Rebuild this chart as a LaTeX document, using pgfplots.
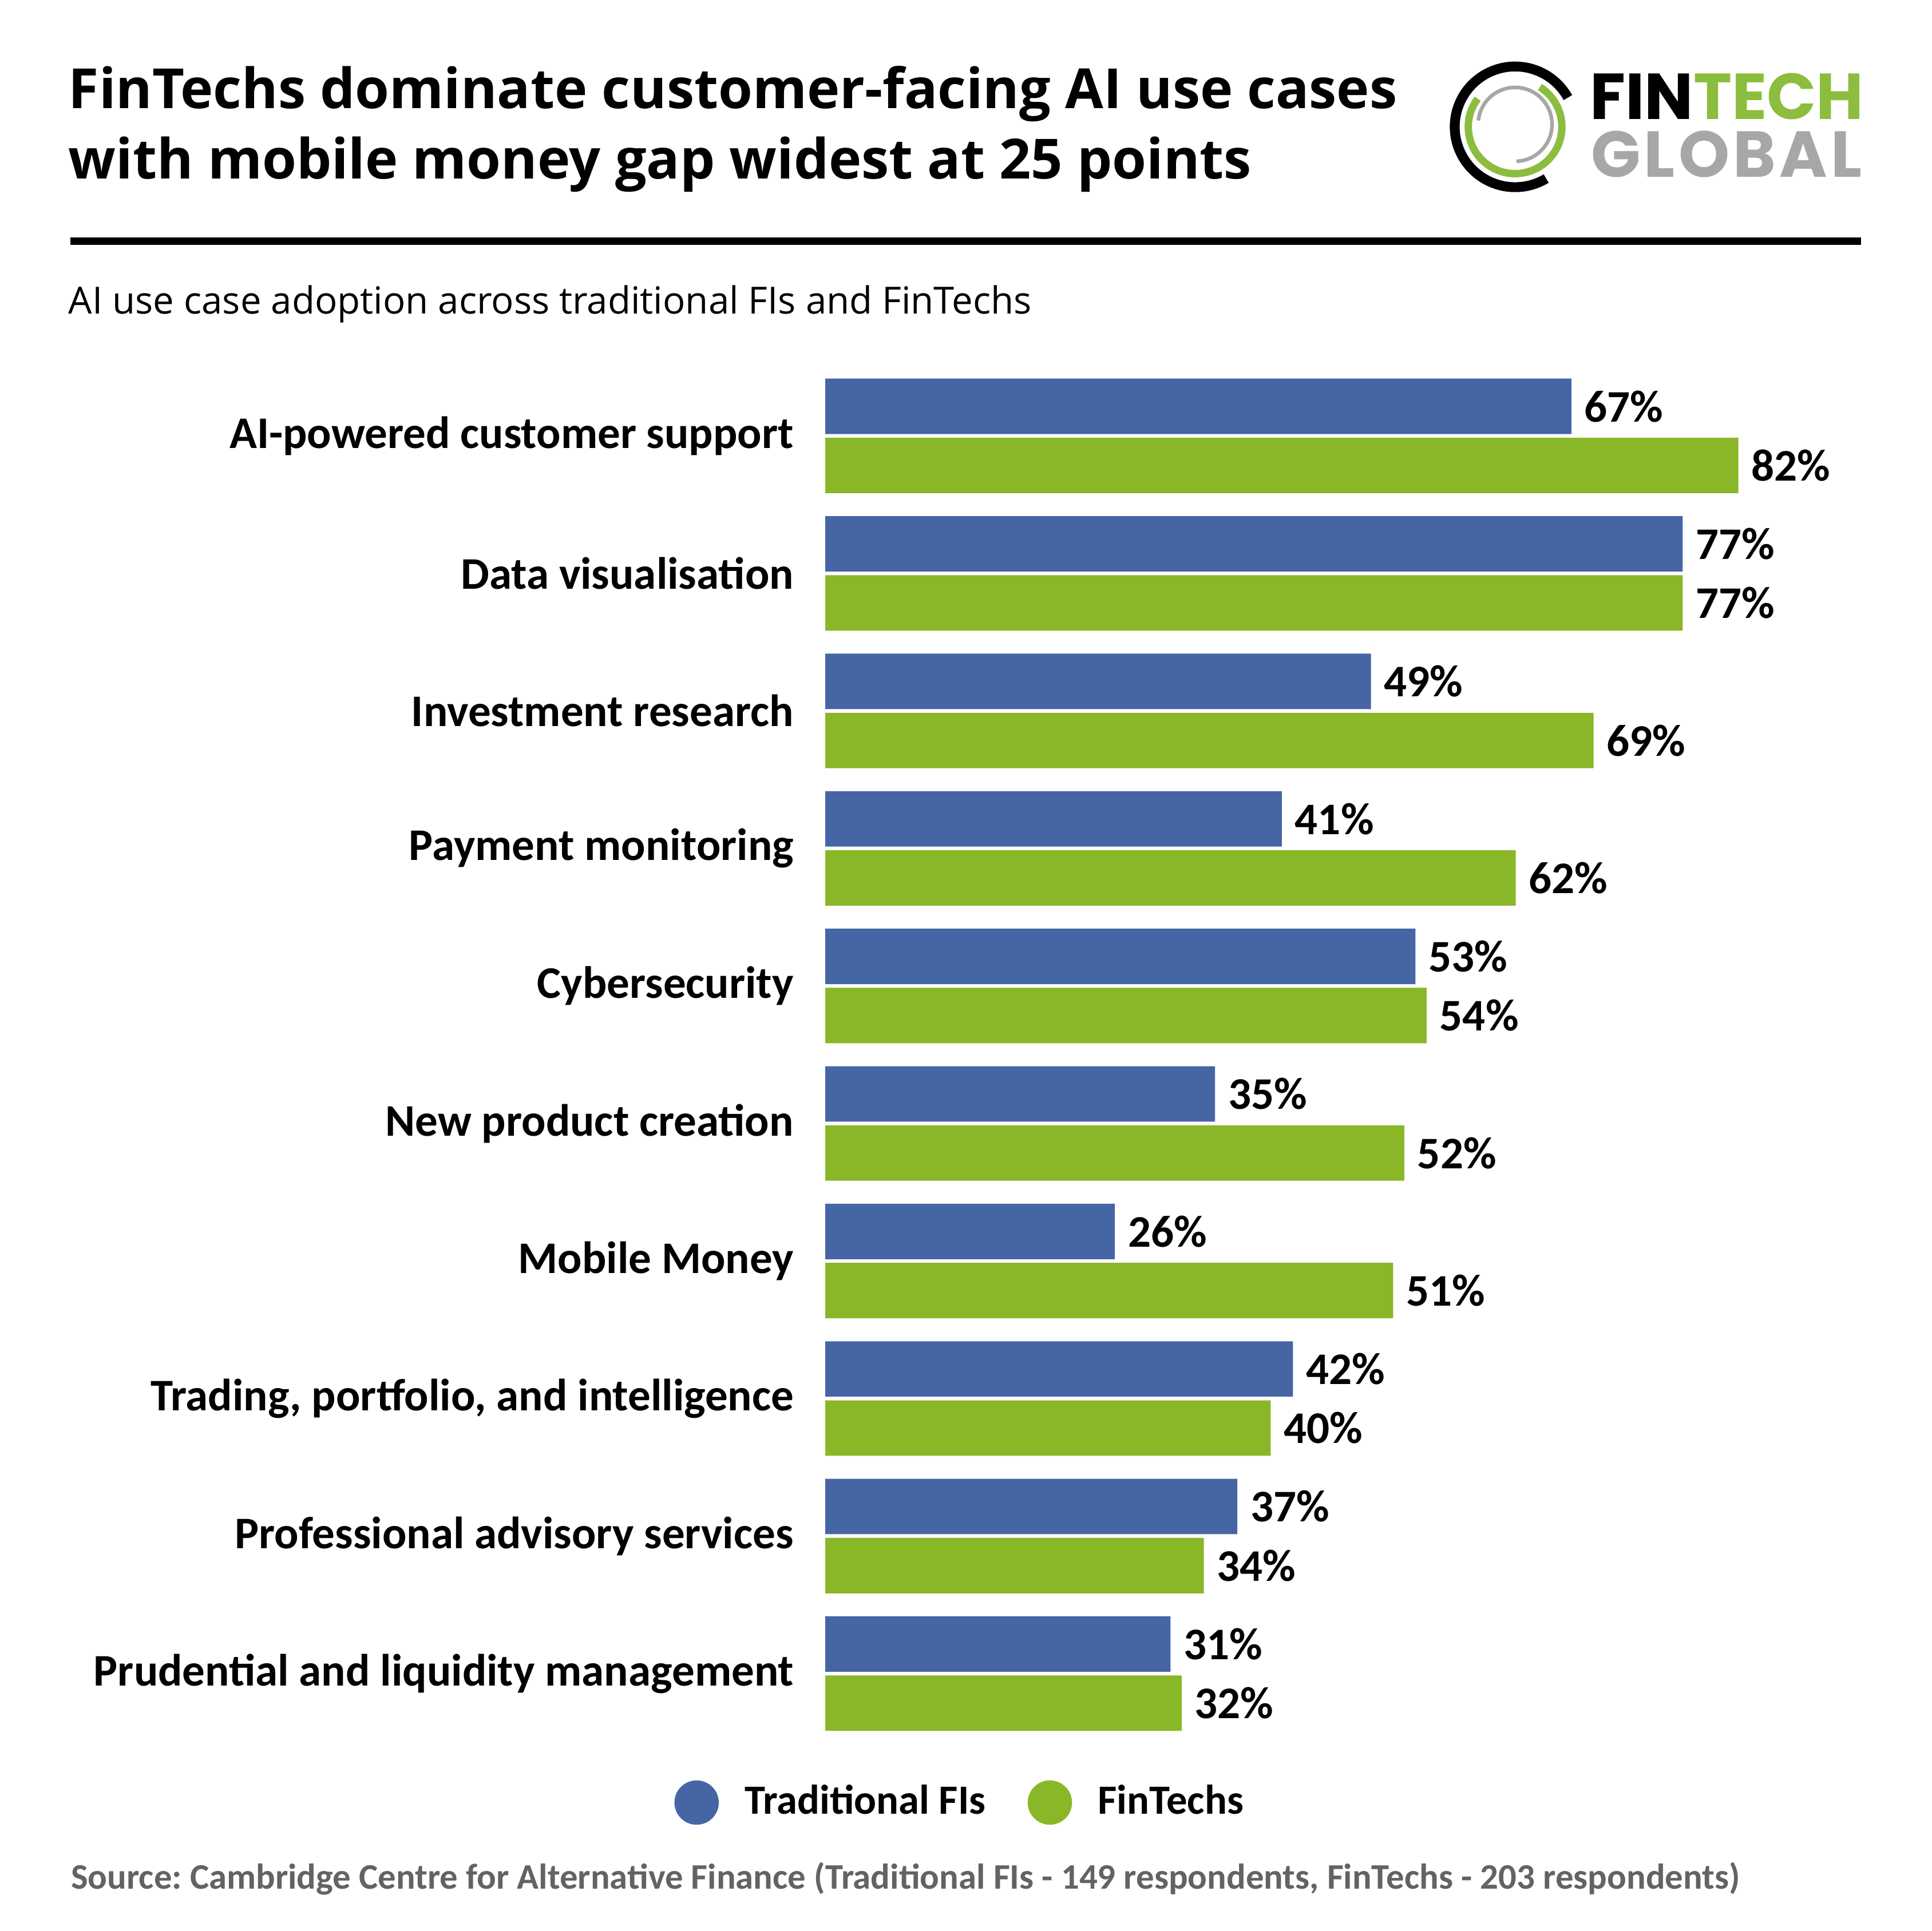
\documentclass[border=0pt]{standalone}
\usepackage{fontspec}
\setmainfont{Carlito}
\newfontfamily\opensans{Open Sans}
\newfontfamily\poppins{Poppins}
\newfontfamily\poppinsls[LetterSpace=5.4]{Poppins}
\usepackage{pgfplots}
\pgfplotsset{compat=1.18}
\frenchspacing
\definecolor{fiblue}{HTML}{4565A5}
\definecolor{figreen}{HTML}{89B728}
\definecolor{logogreen}{HTML}{8CBD3F}
\definecolor{logogray}{HTML}{A7A7A7}
\definecolor{srcgray}{HTML}{636363}
\begin{document}
\begin{tikzpicture}[x=0.1mm,y=0.1mm]
\useasboundingbox (0,0) rectangle (1568,1568);
\fill[white] (0,0) rectangle (1568,1568);
% title (y = 1568 - display y)
\node[anchor=base west,inner sep=0pt,font=\opensans\bfseries\fontsize{12.8}{16}\selectfont] at (55,1480) {FinTechs dominate customer-facing AI use cases};
\node[anchor=base west,inner sep=0pt,font=\opensans\bfseries\fontsize{12.8}{16}\selectfont] at (55,1423) {with mobile money gap widest at 25 points};
\draw[line width=0.6mm] (57,1372) -- (1511,1372);
\node[anchor=base west,inner sep=0pt,font=\opensans\fontsize{8.64}{10}\selectfont] at (55,1313) {AI use case adoption across traditional FIs and FinTechs};
% logo
\draw[line width=0.8mm,black] (1230,1465) ++(29:4.9mm) arc[start angle=29,end angle=301,radius=4.9mm];
\draw[line width=0.6mm,logogreen] (1230,1465) ++(143:3.8mm) arc[start angle=143,end angle=418,radius=3.8mm];
\draw[line width=0.3mm,logogray] (1230,1467) ++(-88:3.0mm) arc[start angle=-88,end angle=174,radius=3.0mm];
\node[anchor=base west,inner sep=0pt,text height=3.6mm,text depth=0pt,font=\poppins\bfseries\fontsize{15}{16}\selectfont] at (1290,1471) {FIN\textcolor{logogreen}{TECH}};
\node[anchor=base west,inner sep=0pt,text height=3.6mm,text depth=0pt,font=\poppinsls\bfseries\fontsize{15}{16}\selectfont,text=logogray] at (1291,1424) {GLOBAL};
% chart
\begin{axis}[
  at={(67mm,15.32mm)}, anchor=south west,
  x=0.904mm, y=11.167mm,
  xmin=0, xmax=95, ymin=-0.5, ymax=9.5,
  xbar, bar width=4.5mm,
  axis line style={draw=none},
  major tick length=0pt,
  xtick=\empty,
  ytick={0,...,9},
  /pgf/number format/assume math mode=true,
  yticklabels={Prudential and liquidity management,Professional advisory services,{Trading, portfolio, and intelligence},Mobile Money,New product creation,Cybersecurity,Payment monitoring,Investment research,Data visualisation,AI-powered customer support},
  yticklabel style={anchor=east,inner sep=0pt,xshift=-2.5mm,font=\bfseries\fontsize{10.45}{12}\selectfont},
  nodes near coords={\pgfmathprintnumber[assume math mode=true]{\pgfplotspointmeta}\%},
  point meta=x,
  nodes near coords style={anchor=west,inner sep=0pt,xshift=1mm,font=\bfseries\fontsize{10.45}{12}\selectfont,text=black},
  clip=false,
  legend columns=2,
  legend style={at={(-0.1426,-0.0438)},anchor=west,draw=none,fill=none,inner sep=0pt,outer sep=0pt,
    nodes={inner sep=0pt,anchor=west},font=\bfseries\fontsize{9.6}{12}\selectfont,
    /tikz/every odd column/.append style={column sep=2.1mm},
    /tikz/every even column/.append style={column sep=3.4mm}},
  legend image code/.code={\fill[#1] (1.8mm,0mm) circle (1.8mm);},
]
\addplot[draw=none,fill=fiblue,bar shift=2.4mm] coordinates {(31,0) (37,1) (42,2) (26,3) (35,4) (53,5) (41,6) (49,7) (77,8) (67,9)};
\addplot[draw=none,fill=figreen,bar shift=-2.4mm] coordinates {(32,0) (34,1) (40,2) (51,3) (52,4) (54,5) (62,6) (69,7) (77,8) (82,9)};
\legend{Traditional FIs,FinTechs}
\end{axis}
\node[anchor=base west,inner sep=0pt,font=\bfseries\fontsize{8.3}{10}\selectfont,text=srcgray] at (57,34) {Source: Cambridge Centre for Alternative Finance (Traditional FIs - 149 respondents, FinTechs - 203 respondents)};
\end{tikzpicture}
\end{document}
